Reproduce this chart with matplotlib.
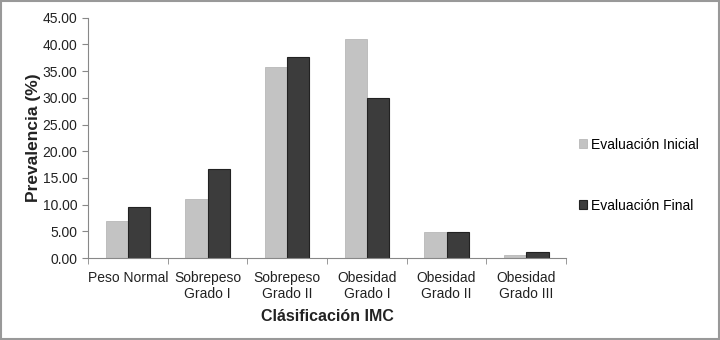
import matplotlib
matplotlib.use('Agg')
import matplotlib.pyplot as plt
import numpy as np
from matplotlib.patches import Rectangle

plt.rcParams['font.family'] = ['Liberation Sans', 'DejaVu Sans']

categorias = ['Peso Normal', 'Sobrepeso\nGrado I', 'Sobrepeso\nGrado II',
              'Obesidad\nGrado I', 'Obesidad\nGrado II', 'Obesidad\nGrado III']
inicial = [6.9, 11.1, 35.7, 41.1, 4.8, 0.5]
final = [9.5, 16.7, 37.7, 29.9, 4.8, 1.1]
yticks = np.arange(0, 45.01, 5)

fig = plt.figure(figsize=(7.2, 3.4), dpi=100)
ax = fig.add_axes([0.1222, 0.241, 0.664, 0.707])

x = np.arange(len(categorias))
w = 0.28
ax.bar(x - w/2, inicial, w, color='#c3c3c3', edgecolor='#b0b0b0', linewidth=0.5,
       label='Evaluación Inicial')
ax.bar(x + w/2, final, w, color='#3c3c3c', edgecolor='#222222', linewidth=0.8,
       label='Evaluación Final')

ax.set_xlim(-0.5, len(categorias) - 0.5)
ax.set_ylim(0, 45)
ax.set_yticks(yticks)
ax.set_yticklabels(['%.2f' % v for v in yticks], fontsize=10)
ax.set_xticks(x)
ax.set_xticklabels(categorias, fontsize=10, color='#222222')
ax.tick_params(axis='x', length=0, pad=9)
ax.set_xticks(np.arange(-0.5, len(categorias)), minor=True)
ax.tick_params(axis='x', which='minor', length=4, color='#888888')
ax.tick_params(axis='y', length=4, color='#888888', labelcolor='#222222')
for s in ['top', 'right']:
    ax.spines[s].set_visible(False)
for s in ['left', 'bottom']:
    ax.spines[s].set_color('#888888')

ax.set_ylabel('Prevalencia (%)', fontsize=12.5, fontweight='bold', color='#222222',
              labelpad=1)
ax.set_xlabel('Clásificación IMC', fontsize=11.5, fontweight='bold', color='#222222',
              labelpad=6)

ax.legend(loc='center left', bbox_to_anchor=(1.0, 0.345), frameon=False,
          fontsize=10, handlelength=0.6, handleheight=0.6, labelspacing=3.4,
          handletextpad=0.3)

fig.patches.append(Rectangle((0.002, 0.003), 0.996, 0.994, transform=fig.transFigure,
                             fill=False, edgecolor='#999999', linewidth=1.5))

fig.savefig('out.png', dpi=100)
